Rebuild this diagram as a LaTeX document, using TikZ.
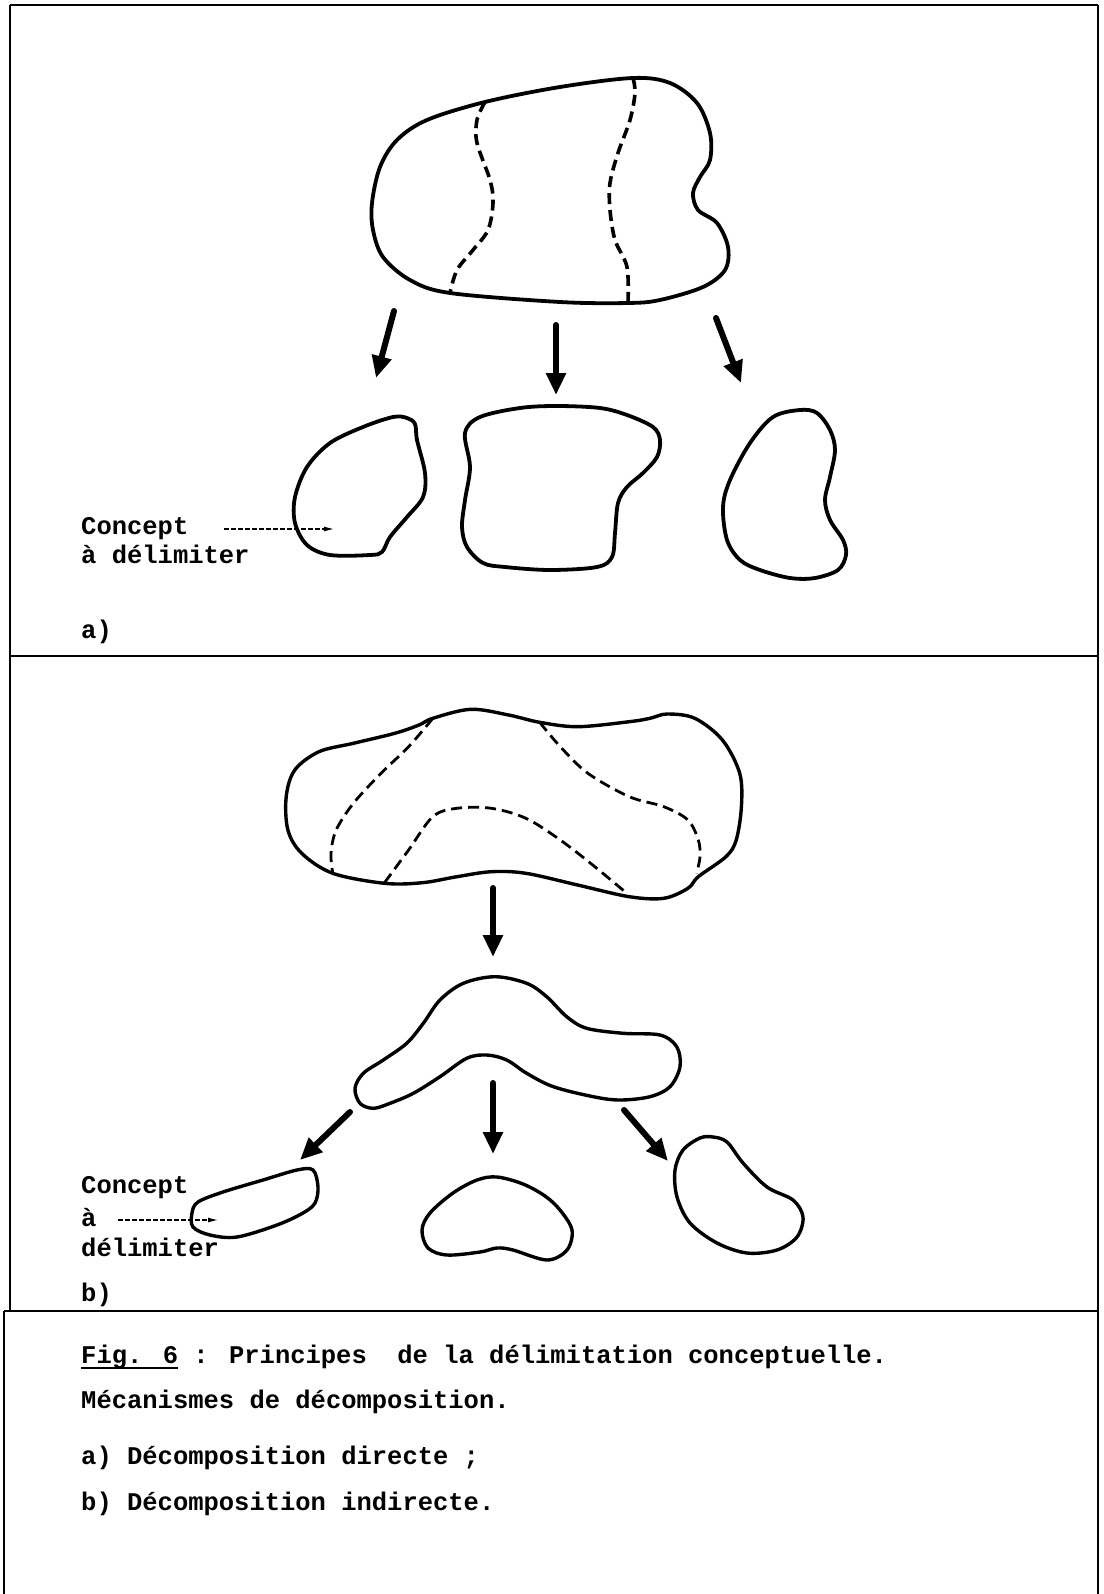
\documentclass[tikz,border=0pt]{standalone}
\usepackage{fontspec}
\newfontfamily\tw{Liberation Mono Bold}
\usetikzlibrary{arrows.meta}
\newcommand{\ulfig}[1]{\setbox0\hbox{#1}\rlap{\raisebox{-6pt}{\rule{\wd0}{1.8pt}}}\box0}
\begin{document}
\begin{tikzpicture}[x=1pt,y=-1pt,
  outline/.style={line width=3.8pt, line join=round},
  outlineb/.style={line width=3.4pt, line join=round},
  dasha/.style={line width=3.6pt, dash pattern=on 11pt off 6pt},
  dashb/.style={line width=2.8pt, dash pattern=on 11pt off 6pt},
  bigarrow/.style={line width=6pt, line cap=round, -{Triangle[length=22pt,width=19pt]}},
  thinarrow/.style={line width=1.1pt, dash pattern=on 5pt off 2pt, -{Latex[length=10pt,width=5pt]}},
  lbl/.style={font=\tw\fontsize{25.5}{30}\selectfont, inner sep=0pt, anchor=base west},
  frame/.style={line width=2.8pt}]
\useasboundingbox (0,0) rectangle (1103,1594);
% frame
\coordinate (tl) at (10,5); \coordinate (tr) at (1098,5);
\coordinate (m1l) at (10,656); \coordinate (m1r) at (1098,656);
\coordinate (m2l) at (10,1311); \coordinate (m2r) at (1098,1311);
\coordinate (m2l2) at (4,1311); \coordinate (bl) at (4,1594); \coordinate (br) at (1098,1594);
\draw[frame] (tl) -- (tr);
\draw[frame] (tl) -- (m2l);
\draw[frame] (tr) -- (br);
\draw[frame] (m1l) -- (m1r);
\draw[frame] (m2l2) -- (m2r);
\draw[frame] (m2l2) -- (bl);

% ---------- panel a ----------
\draw[outline] plot[smooth cycle, tension=0.55] coordinates {
 (372,203) (380,167) (397,140) (427,120) (485,102) (560,87) (633,78) (670,83) (697,103)
 (710,133) (710,160) (700,177) (693,193) (698,210) (717,223) (728,247) (725,270) (703,287)
 (660,300) (628,303) (560,302) (450,293) (410,280) (383,257) (373,230)};
\draw[dasha] plot[smooth, tension=0.55] coordinates {
 (485,102) (477,120) (477,143) (490,180) (493,203) (488,230) (473,250) (457,270) (450,293)};
\draw[dasha] plot[smooth, tension=0.55] coordinates {
 (633,78) (635,93) (630,120) (618,153) (610,183) (610,210) (615,240) (627,267) (628,303)};

\coordinate (a1s) at (394,311); \coordinate (a1e) at (376,378);
\coordinate (a2s) at (556,325); \coordinate (a2e) at (556,395);
\coordinate (a3s) at (716,318); \coordinate (a3e) at (741,383);
\draw[bigarrow] (a1s) -- (a1e);
\draw[bigarrow] (a2s) -- (a2e);
\draw[bigarrow] (a3s) -- (a3e);

\draw[outline] plot[smooth cycle, tension=0.55] coordinates {
 (407,418) (415,424) (417,440) (425,473) (423,497) (407,517) (390,537) (382,552) (370,555)
 (330,555) (307,545) (295,523) (295,497) (307,467) (330,443) (363,427) (393,417)};
\draw[outline] plot[smooth cycle, tension=0.55] coordinates {
 (465,433) (480,417) (520,408) (557,406) (600,408) (627,415) (653,427) (660,440) (657,457)
 (643,473) (627,487) (618,503) (615,533) (612,557) (597,567) (550,570) (505,567) (483,563)
 (467,547) (462,527) (465,500) (470,467)};
\draw[outline] plot[smooth cycle, tension=0.55] coordinates {
 (800,410) (817,413) (830,430) (835,450) (830,477) (825,500) (830,520) (843,540) (846,555)
 (838,570) (815,578) (790,578) (760,570) (740,560) (727,540) (723,507) (730,480) (750,443) (773,417)};

\node[lbl] (ca1) at (81,534) {Concept};
\node[lbl] (ca2) at (81,563) {à délimiter};
\coordinate (cas) at (224,529); \coordinate (cae) at (334,529);
\draw[thinarrow] (cas) -- (cae);
\node[lbl] (la) at (81,638) {a)};

% ---------- panel b ----------
\draw[outlineb] plot[smooth cycle, tension=0.55] coordinates {
 (432.8,718.3) (470.7,709.3) (508.6,715) (539.7,722.3) (577.6,726.7) (629.3,721.7) (650,718.3)
 (667.2,714) (694.8,718.3) (722.4,740) (739.7,773.3) (741.4,806.7) (736.2,840) (725.9,856.7)
 (698.3,876.7) (687.9,888.3) (663.8,898.3) (629.3,896.7) (577.6,885) (525.9,873.3) (491.4,871.7)
 (456.9,876.7) (422.4,882.7) (384.5,883.3) (332.8,873.3) (301.7,853.3) (287.9,830) (286.2,796.7)
 (294.8,770) (319,751.7) (353.4,743.3) (394.8,733.3) (419,725)};
\draw[dashb] plot[smooth, tension=0.55] coordinates {
 (432.8,718.3) (408.6,746.7) (381,773.3) (353.4,803.3) (336.2,830) (331,853.3) (332.8,873.3)};
\draw[dashb] plot[smooth, tension=0.55] coordinates {
 (539.7,722.3) (560.3,746.7) (587.9,773.3) (629.3,796.7) (663.8,806.7) (687.9,820) (698.3,840)
 (700,856.7) (696.6,873.3)};
\draw[dashb] plot[smooth, tension=0.55] coordinates {
 (384.5,882.7) (408.6,850) (432.8,816.7) (456.9,808.3) (491.4,808.3) (525.9,818.3) (560.3,840)
 (594.8,866.7) (627.6,894)};

\coordinate (b0s) at (493,888); \coordinate (b0e) at (493,957);
\draw[bigarrow] (b0s) -- (b0e);

\draw[outlineb] plot[smooth cycle, tension=0.55] coordinates {
 (495,976.7) (526.7,983.3) (546.7,996.7) (566.7,1016.7) (586.7,1028.3) (623.3,1033.3) (660,1035)
 (676.7,1046.7) (680,1066.7) (670,1086.7) (650,1096.7) (620,1100) (593.3,1096.7) (553.3,1086.7)
 (526.7,1073.3) (506.7,1060) (486.7,1055) (466.7,1058.3) (440,1076.7) (413.3,1093.3) (390,1103.3)
 (373.3,1108.3) (360,1103.3) (355,1088.3) (363.3,1073.3) (383.3,1060) (406.7,1043.3) (423.3,1023.3)
 (440,1000) (463.3,983.3)};

\coordinate (b1s) at (350,1112); \coordinate (b1e) at (300,1160);
\coordinate (b2s) at (493,1083); \coordinate (b2e) at (493,1154);
\coordinate (b3s) at (624,1110); \coordinate (b3e) at (668,1161);
\draw[bigarrow] (b1s) -- (b1e);
\draw[bigarrow] (b2s) -- (b2e);
\draw[bigarrow] (b3s) -- (b3e);

\draw[outlineb] plot[smooth cycle, tension=0.55] coordinates {
 (313,1170) (318,1187) (315,1203) (303,1213) (277,1225) (237,1237) (210,1235) (193,1227)
 (192,1213) (198,1202) (223,1192) (263,1180) (297,1170)};
\draw[outlineb] plot[smooth cycle, tension=0.55] coordinates {
 (497,1177) (523,1184) (545,1196) (560,1210) (572,1230) (567,1250) (547,1260) (513,1250)
 (497,1248) (480,1252) (447,1255) (428,1248) (422,1230) (430,1213) (453,1193) (477,1180)};
\draw[outlineb] plot[smooth cycle, tension=0.55] coordinates {
 (713,1137) (727,1142) (743,1163) (767,1187) (793,1200) (803,1217) (797,1237) (777,1250)
 (747,1253) (717,1243) (690,1223) (677,1197) (675,1170) (683,1150) (700,1138)};

\node[lbl] (cb1) at (81,1193) {Concept};
\node[lbl] (cb2) at (81,1226) {à};
\node[lbl] (cb3) at (81,1256) {délimiter};
\coordinate (cbs) at (118,1220); \coordinate (cbe) at (218,1220);
\draw[thinarrow] (cbs) -- (cbe);
\node[lbl] (lb) at (81,1301) {b)};

% ---------- caption ----------
\node[lbl] (cap1) at (81,1363) {\ulfig{Fig. 6}\ : Principes\ \ de la délimitation conceptuelle.};
\node[lbl] (cap2) at (81,1408) {Mécanismes de décomposition.};
\node[lbl] (cap3) at (81,1464) {a) Décomposition directe ;};
\node[lbl] (cap4) at (81,1510) {b) Décomposition indirecte.};
\end{tikzpicture}
\end{document}
